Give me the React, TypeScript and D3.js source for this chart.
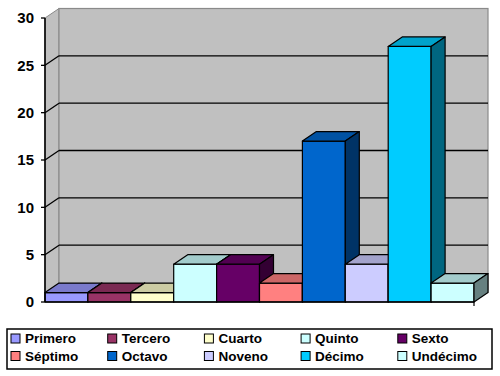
import React from "react";
import * as d3 from "d3";

const categories = ["Primero", "Tercero", "Cuarto", "Quinto", "Sexto", "Séptimo", "Octavo", "Noveno", "Décimo", "Undécimo"];
const values = [1, 1, 1, 4, 4, 2, 17, 4, 27, 2];
const colors = ["#9999FF", "#993366", "#FFFFCC", "#CCFFFF", "#660066", "#FF8080", "#0066CC", "#CCCCFF", "#00CCFF", "#CCFFFF"];
const yTicks = [0, 5, 10, 15, 20, 25, 30];

const W = 500, H = 376;
const DX = 14, DY = -9.5;

export default function App() {
  const x = d3.scaleBand<string>().domain(categories).range([45, 474]).padding(0);
  const y = d3.scaleLinear().domain([0, 30]).range([302, 18]);
  const shade = (c: string, k: number) => {
    const r = d3.rgb(c);
    return d3.rgb(r.r * k, r.g * k, r.b * k).formatHex();
  };
  const x0 = 45, x1 = 474, y0 = y(0), yTop = y(30);
  const pts = (a: number[][]) => a.map(p => p.join(",")).join(" ");

  return (
    <svg width={W} height={H} style={{ position: "absolute", left: 0, top: 0, background: "#fff" }} fontFamily="'Liberation Sans', Arial, sans-serif">
      {/* side wall */}
      <polygon points={pts([[x0, y0], [x0, yTop], [x0 + DX, yTop + DY], [x0 + DX, y0 + DY]])} fill="#C0C0C0" stroke="#8a8a8a" strokeWidth={1} />
      {/* back wall */}
      <rect x={x0 + DX} y={yTop + DY} width={x1 - x0} height={y0 - yTop} fill="#C0C0C0" stroke="#8a8a8a" strokeWidth={1.2} />
      {/* gridlines */}
      {yTicks.filter(t => t > 0 && t < 30).map(t => (
        <g key={t}>
          <line x1={x0 + DX} x2={x1 + DX} y1={y(t) + DY} y2={y(t) + DY} stroke="#000" strokeWidth={1.3} />
          <line x1={x0} x2={x0 + DX} y1={y(t)} y2={y(t) + DY} stroke="#000" strokeWidth={1.3} />
        </g>
      ))}
      {/* bars */}
      {categories.map((c, i) => {
        const bx = x(c)!, bw = x.bandwidth(), top = y(values[i]);
        const col = colors[i];
        return (
          <g key={c} stroke="#000" strokeWidth={1.2} strokeLinejoin="round">
            <rect x={bx} y={top} width={bw} height={y0 - top} fill={col} />
            <polygon points={pts([[bx, top], [bx + DX, top + DY], [bx + bw + DX, top + DY], [bx + bw, top]])} fill={shade(col, 0.8)} />
            <polygon points={pts([[bx + bw, top], [bx + bw + DX, top + DY], [bx + bw + DX, y0 + DY], [bx + bw, y0]])} fill={shade(col, 0.5)} />
          </g>
        );
      })}
      {/* axes */}
      <line x1={x0} x2={x0} y1={yTop} y2={y0} stroke="#000" strokeWidth={1.6} />
      <line x1={x0} x2={x1} y1={y0} y2={y0} stroke="#000" strokeWidth={1.6} />
      <line x1={x1} x2={x1} y1={y0} y2={y0 + 4} stroke="#000" strokeWidth={1.2} />
      {yTicks.map(t => (
        <g key={t}>
          <line x1={x0 - 4} x2={x0} y1={y(t)} y2={y(t)} stroke="#000" strokeWidth={1.3} />
          <text x={x0 - 11} y={y(t)} dy="0.36em" textAnchor="end" fontSize={15} fontWeight="bold" fill="#000">{t}</text>
        </g>
      ))}
      {/* legend */}
      <rect x={7} y={329} width={485} height={40} fill="#fff" stroke="#000" strokeWidth={1.5} />
      {categories.map((c, i) => {
        const col = i % 5, row = Math.floor(i / 5);
        const lx = 11 + col * 96.7, ly = 338.5 + row * 17.5;
        return (
          <g key={c}>
            <rect x={lx} y={ly - 4.5} width={9} height={9} fill={colors[i]} stroke="#000" strokeWidth={1} />
            <text x={lx + 14} y={ly} dy="0.36em" fontSize={13.5} fontWeight="bold" fill="#000">{c}</text>
          </g>
        );
      })}
    </svg>
  );
}
